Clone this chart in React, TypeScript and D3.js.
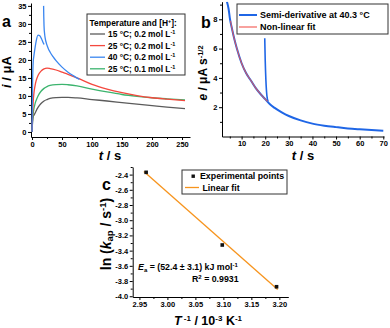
import React, { useEffect, useRef } from 'react';
import * as d3 from 'd3';

const FONT = '"Liberation Sans", Arial, sans-serif';

// ---- panel a: current transients
const tA = [0, 1, 2, 3, 5, 7, 10, 15, 20, 25, 30, 40, 50, 60, 75, 100, 125, 150, 175, 200, 225, 255];
const i15_02 = [0, 3.0, 4.3, 4.6, 5.2, 5.9, 6.8, 7.9, 8.6, 9.0, 9.3, 9.55, 9.6, 9.6, 9.45, 9.0, 8.6, 8.15, 7.7, 7.3, 6.9, 6.45];
const i25_02 = [0, 5, 8.5, 10.5, 12.8, 14.3, 15.7, 16.9, 17.5, 17.7, 17.6, 17.2, 16.6, 16.0, 15.0, 13.2, 11.9, 10.9, 10.1, 9.5, 9.1, 8.7];
const i25_01 = [0, 3.5, 5.2, 6.3, 7.8, 8.8, 10.0, 11.3, 12.1, 12.6, 12.9, 13.15, 13.2, 13.1, 12.8, 11.9, 11.1, 10.4, 9.9, 9.5, 9.2, 8.9];
// 40 degC trace comes in two pieces
const t40a = [0, 0.5, 1, 2, 3, 5, 7, 10, 13, 16, 18, 20];
const i40a = [0, 8, 14, 19.5, 21, 23.3, 25.3, 26.9, 26.7, 25.8, 25.0, 24.3];
const t40b = [19.3, 19.6, 20, 21, 22, 24, 27, 30, 35, 40, 50, 60, 70, 79];
const i40b = [35, 32, 29.5, 27.2, 26.0, 24.6, 23.2, 22.2, 20.9, 19.8, 18.0, 16.6, 15.5, 14.6];

const legendA = ['15 °C; 0.2 mol L', '25 °C; 0.2 mol L', '40 °C; 0.2 mol L', '25 °C; 0.1 mol L'];
const colorsA = ['#5b5b5b', '#f4483e', '#3a86f0', '#3cb46e'];

// ---- panel b: semi-derivative
const tSemi = [3.8, 4.5, 5, 6, 7, 8, 10, 12, 14, 16, 18, 20, 22, 24, 27, 30, 35, 40, 45, 50, 55, 60, 65, 70];
const eSemi = [9.2, 8.7, 8.1, 7.3, 6.6, 6.0, 5.0, 4.3, 3.8, 3.3, 2.9, 2.55, 2.2, 1.95, 1.65, 1.4, 1.1, 0.88, 0.74, 0.64, 0.55, 0.49, 0.44, 0.40];
const tSpike = [19.8, 20.0, 20.3, 20.7, 21.2];
const eSpike = [6.7, 5.2, 3.8, 2.8, 2.4];
const tFit = [5.3, 6, 7, 8, 10, 12, 14, 16, 18, 20, 21];
const eFit = [7.9, 7.3, 6.6, 6.0, 5.0, 4.3, 3.8, 3.3, 2.9, 2.55, 2.4];

// ---- panel c: Arrhenius
const invT = [2.962, 3.098, 3.195];
const lnK = [-2.37, -3.326, -3.875];
const fitInvT = [2.958, 3.197];
const fitLnK = [-2.36, -3.91];

function App() {
    const chart = useRef(null);

    useEffect(function () {
        if (!chart.current) return;
        const svg = d3.select(chart.current);
        svg.selectAll('*').remove();

        function styleAxis(g, size) {
            g.select('.domain').attr('stroke', '#000').attr('stroke-width', 1);
            g.selectAll('.tick line').attr('stroke', '#000');
            g.selectAll('text')
                .attr('font-size', size || 7.5)
                .attr('font-weight', 'bold')
                .attr('font-family', FONT)
                .attr('fill', '#000');
        }

        function axes(x, y, y0, x0, xt, xm, yt, ym, xf, yf) {
            const gx = svg.append('g').attr('transform', 'translate(0,' + y0 + ')')
                .call(d3.axisBottom(x).tickValues(xt).tickSize(3).tickSizeOuter(0).tickPadding(1.5).tickFormat(xf));
            styleAxis(gx);
            const gxm = svg.append('g').attr('transform', 'translate(0,' + y0 + ')')
                .call(d3.axisBottom(x).tickValues(xm).tickSize(2).tickFormat(() => ''));
            gxm.select('.domain').remove();
            gxm.selectAll('line').attr('stroke', '#000');
            const gy = svg.append('g').attr('transform', 'translate(' + x0 + ',0)')
                .call(d3.axisLeft(y).tickValues(yt).tickSize(3).tickSizeOuter(0).tickPadding(1.5).tickFormat(yf));
            styleAxis(gy);
            const gym = svg.append('g').attr('transform', 'translate(' + x0 + ',0)')
                .call(d3.axisLeft(y).tickValues(ym).tickSize(2).tickFormat(() => ''));
            gym.select('.domain').remove();
            gym.selectAll('line').attr('stroke', '#000');
        }

        function clip(id, x, y) {
            svg.append('clipPath').attr('id', id).append('rect')
                .attr('x', x.range()[0]).attr('y', y.range()[1])
                .attr('width', x.range()[1] - x.range()[0]).attr('height', y.range()[0] - y.range()[1]);
        }

        function label(txt, x, y) {
            svg.append('text').attr('x', x).attr('y', y).text(txt)
                .attr('font-size', 16).attr('font-weight', 'bold').attr('font-family', FONT);
        }

        const zip = (a, b) => a.map((v, i) => [v, b[i]]);

        // ================= panel a
        const xA = d3.scaleLinear().domain([-1.7, 263.3]).range([31, 190]);
        const yA = d3.scaleLinear().domain([-1.4, 35.8]).range([137, 3]);
        axes(xA, yA, 137, 31,
            [0, 50, 100, 150, 200, 250], [25, 75, 125, 175, 225],
            [0, 5, 10, 15, 20, 25, 30, 35], [2.5, 7.5, 12.5, 17.5, 22.5, 27.5, 32.5],
            d3.format('d'), d3.format('d'));
        clip('clipA', xA, yA);
        const lineA = d3.line().x(d => xA(d[0])).y(d => yA(d[1])).curve(d3.curveMonotoneX);
        const gA = svg.append('g').attr('clip-path', 'url(#clipA)').attr('fill', 'none').attr('stroke-width', 1.3);
        gA.append('path').attr('d', lineA(zip(tA, i15_02))).attr('stroke', colorsA[0]);
        gA.append('path').attr('d', lineA(zip(tA, i25_01))).attr('stroke', colorsA[3]);
        gA.append('path').attr('d', lineA(zip(tA, i25_02))).attr('stroke', colorsA[1]);
        gA.append('path').attr('d', lineA(zip(t40a, i40a))).attr('stroke', colorsA[2]);
        gA.append('path').attr('d', lineA(zip(t40b, i40b))).attr('stroke', colorsA[2]);

        // legend a
        const lgA = svg.append('g').attr('font-family', FONT).attr('font-weight', 'bold').attr('font-size', 8.4);
        lgA.append('rect').attr('x', 87).attr('y', 14).attr('width', 98).attr('height', 61)
            .attr('fill', '#fff').attr('stroke', '#333').attr('stroke-width', 1);
        const ttl = lgA.append('text').attr('x', 89.5).attr('y', 26).text('Temperature and [H');
        ttl.append('tspan').attr('font-size', 5.5).attr('dy', -3).text('+');
        ttl.append('tspan').attr('dy', 3).text(']:');
        legendA.forEach((s, i) => {
            const cy = 34 + i * 11.6;
            lgA.append('line').attr('x1', 90).attr('x2', 105).attr('y1', cy).attr('y2', cy)
                .attr('stroke', colorsA[i]).attr('stroke-width', 1.3);
            const t = lgA.append('text').attr('x', 108).attr('y', cy + 3).text(s);
            t.append('tspan').attr('font-size', 5.5).attr('dy', -3).text('-1');
        });

        const tA_x = svg.append('text').attr('x', 110).attr('y', 160).attr('text-anchor', 'middle')
            .attr('font-family', FONT).attr('font-weight', 'bold').attr('font-size', 13);
        tA_x.append('tspan').attr('font-style', 'italic').text('t');
        tA_x.append('tspan').text(' / s');
        const tA_y = svg.append('text').attr('transform', 'translate(11,72) rotate(-90)').attr('text-anchor', 'middle')
            .attr('font-family', FONT).attr('font-weight', 'bold').attr('font-size', 13);
        tA_y.append('tspan').attr('font-style', 'italic').text('i');
        tA_y.append('tspan').text(' / μA');
        label('a', 2, 27);

        // ================= panel b
        const xB = d3.scaleLinear().domain([1.7, 70.3]).range([222, 384]);
        const yB = d3.scaleLinear().domain([0, 9.2]).range([136.5, 1.7]);
        axes(xB, yB, 136.5, 222,
            [10, 20, 30, 40, 50, 60, 70], [5, 15, 25, 35, 45, 55, 65],
            [2, 4, 6, 8], [1, 3, 5, 7, 9],
            d3.format('d'), d3.format('d'));
        clip('clipB', xB, yB);
        const lineB = d3.line().x(d => xB(d[0])).y(d => yB(d[1])).curve(d3.curveMonotoneX);
        const gB = svg.append('g').attr('clip-path', 'url(#clipB)').attr('fill', 'none');
        gB.append('path').attr('d', lineB(zip(tSemi, eSemi))).attr('stroke', '#1f66e6').attr('stroke-width', 2);
        gB.append('path').attr('d', lineB(zip(tSpike, eSpike))).attr('stroke', '#1f66e6').attr('stroke-width', 1.6);
        gB.append('path').attr('d', lineB(zip(tFit, eFit))).attr('stroke', '#f2564f').attr('stroke-width', 1.1).attr('opacity', 0.85);

        const lgB = svg.append('g').attr('font-family', FONT).attr('font-weight', 'bold').attr('font-size', 9);
        lgB.append('rect').attr('x', 237).attr('y', 4).attr('width', 151).attr('height', 30)
            .attr('fill', '#fff').attr('stroke', '#333').attr('stroke-width', 1);
        lgB.append('line').attr('x1', 239).attr('x2', 257).attr('y1', 15).attr('y2', 15).attr('stroke', '#1f66e6').attr('stroke-width', 2);
        lgB.append('text').attr('x', 260).attr('y', 18.3).text('Semi-derivative at 40.3 °C');
        lgB.append('line').attr('x1', 239).attr('x2', 257).attr('y1', 27).attr('y2', 27).attr('stroke', '#f2564f').attr('stroke-width', 1.1);
        lgB.append('text').attr('x', 260).attr('y', 30.3).text('Non-linear fit');

        const tB_x = svg.append('text').attr('x', 303).attr('y', 160).attr('text-anchor', 'middle')
            .attr('font-family', FONT).attr('font-weight', 'bold').attr('font-size', 13);
        tB_x.append('tspan').attr('font-style', 'italic').text('t');
        tB_x.append('tspan').text(' / s');
        const tB_y = svg.append('text').attr('transform', 'translate(207,73) rotate(-90)').attr('text-anchor', 'middle')
            .attr('font-family', FONT).attr('font-weight', 'bold').attr('font-size', 12);
        tB_y.append('tspan').attr('font-style', 'italic').text('e');
        tB_y.append('tspan').text(' / μA s');
        tB_y.append('tspan').attr('font-size', 7.5).attr('dy', -4).text('-1/2');
        label('b', 201, 28);

        // ================= panel c
        const xC = d3.scaleLinear().domain([2.938, 3.216]).range([132.7, 288.3]);
        const yC = d3.scaleLinear().domain([-4.01, -2.3]).range([297, 167]);
        axes(xC, yC, 297, 132.7,
            [2.95, 3.0, 3.05, 3.1, 3.15, 3.2], [2.975, 3.025, 3.075, 3.125, 3.175],
            [-4.0, -3.8, -3.6, -3.4, -3.2, -3.0, -2.8, -2.6, -2.4], [-3.9, -3.7, -3.5, -3.3, -3.1, -2.9, -2.7, -2.5, -2.3],
            d3.format('.2f'), d => d3.format('.1f')(d).replace('−', '-'));
        const lineC = d3.line().x(d => xC(d[0])).y(d => yC(d[1]));
        svg.append('path').attr('d', lineC(zip(fitInvT, fitLnK))).attr('fill', 'none')
            .attr('stroke', '#f7941d').attr('stroke-width', 1.3);
        svg.append('g').selectAll('rect').data(zip(invT, lnK)).join('rect')
            .attr('x', d => xC(d[0]) - 1.8).attr('y', d => yC(d[1]) - 1.8)
            .attr('width', 3.6).attr('height', 3.6).attr('fill', '#111');

        const lgC = svg.append('g').attr('font-family', FONT).attr('font-weight', 'bold').attr('font-size', 8.8);
        lgC.append('rect').attr('x', 182).attr('y', 170).attr('width', 105).attr('height', 24)
            .attr('fill', '#fff').attr('stroke', '#333').attr('stroke-width', 1);
        lgC.append('rect').attr('x', 191.5).attr('y', 174.5).attr('width', 3.4).attr('height', 3.4).attr('fill', '#111');
        lgC.append('text').attr('x', 200).attr('y', 179.4).text('Experimental points');
        lgC.append('line').attr('x1', 185).attr('x2', 199).attr('y1', 187.5).attr('y2', 187.5)
            .attr('stroke', '#f7941d').attr('stroke-width', 1.3);
        lgC.append('text').attr('x', 202.5).attr('y', 190.8).text('Linear fit');

        const ann = svg.append('g').attr('font-family', FONT).attr('font-weight', 'bold').attr('font-size', 8.8);
        const ea = ann.append('text').attr('x', 138).attr('y', 270);
        ea.append('tspan').attr('font-style', 'italic').text('E');
        ea.append('tspan').attr('font-size', 6).attr('dy', 2).text('a');
        ea.append('tspan').attr('dy', -2).text(' = (52.4 ± 3.1) kJ mol');
        ea.append('tspan').attr('font-size', 6).attr('dy', -3).text('-1');
        const r2 = ann.append('text').attr('x', 192).attr('y', 282);
        r2.append('tspan').text('R');
        r2.append('tspan').attr('font-size', 6).attr('dy', -3).text('2');
        r2.append('tspan').attr('dy', 3).text(' = 0.9931');

        const tC_x = svg.append('text').attr('x', 208).attr('y', 325).attr('text-anchor', 'middle')
            .attr('font-family', FONT).attr('font-weight', 'bold').attr('font-size', 12.5);
        tC_x.append('tspan').attr('font-style', 'italic').text('T');
        tC_x.append('tspan').attr('font-size', 8).attr('dy', -4).text(' -1');
        tC_x.append('tspan').attr('dy', 4).text(' / 10');
        tC_x.append('tspan').attr('font-size', 8).attr('dy', -4).text('-3');
        tC_x.append('tspan').attr('dy', 4).text(' K');
        tC_x.append('tspan').attr('font-size', 8).attr('dy', -4).text('-1');
        const tC_y = svg.append('text').attr('transform', 'translate(110.5,234) rotate(-90)').attr('text-anchor', 'middle')
            .attr('font-family', FONT).attr('font-weight', 'bold').attr('font-size', 14);
        tC_y.append('tspan').text('ln (');
        tC_y.append('tspan').attr('font-style', 'italic').text('k');
        tC_y.append('tspan').attr('font-size', 9.5).attr('dy', 2.5).text('ap');
        tC_y.append('tspan').attr('dy', -2.5).text(' / s');
        tC_y.append('tspan').attr('font-size', 9.5).attr('dy', -5).text('-1');
        tC_y.append('tspan').attr('dy', 5).text(')');
        label('c', 102, 190);
    });

    return (
        <svg ref={chart} width={390} height={328}
            style={{ position: 'absolute', left: 0, top: 0, background: '#fff' }}></svg>
    );
}

export default App;
